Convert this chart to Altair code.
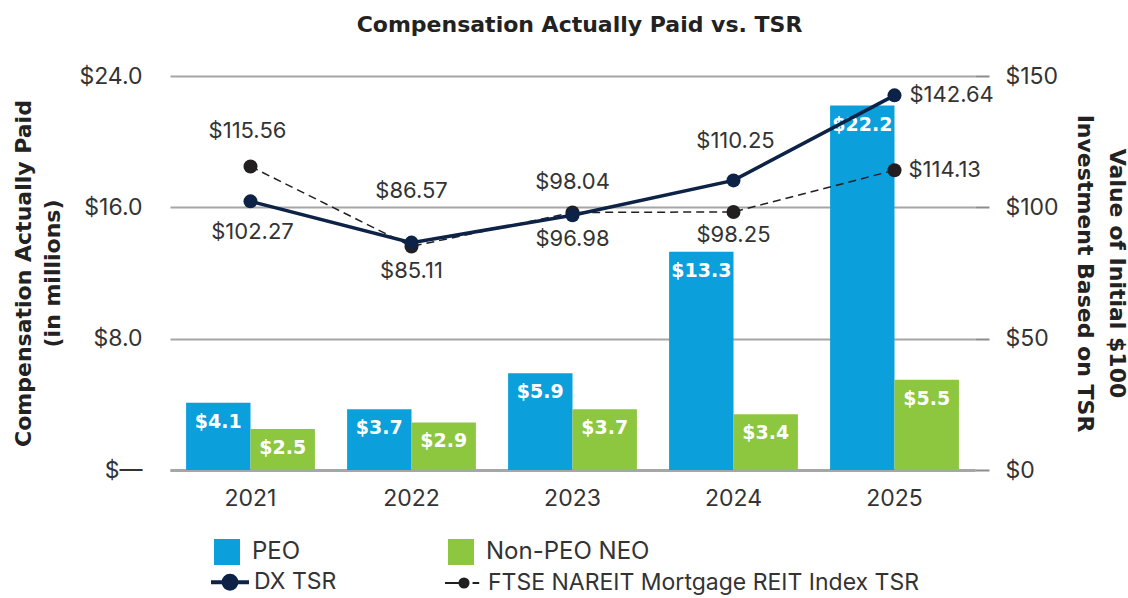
import altair as alt
import pandas as pd

years = ["2021", "2022", "2023", "2024", "2025"]
peo = [4.1, 3.7, 5.9, 13.3, 22.2]
non_peo = [2.5, 2.9, 3.7, 3.4, 5.5]
dx_tsr = [102.27, 86.57, 96.98, 110.25, 142.64]
ftse_tsr = [115.56, 85.11, 98.04, 98.25, 114.13]

bar_series = ["PEO", "Non-PEO NEO"]
line_series = ["DX TSR", "FTSE NAREIT Mortgage REIT Index TSR"]

FONT = "Inter"
BOLD = "DejaVu Sans"
TXT = "#333333"
GRID = "#a6a6a6"
BLUE = "#0b9fdb"
GREEN = "#8dc63f"
NAVY = "#0c2246"
BLACK = "#231f20"

bars_df = pd.DataFrame(
    [{"year": y, "series": bar_series[0], "value": v} for y, v in zip(years, peo)]
    + [{"year": y, "series": bar_series[1], "value": v} for y, v in zip(years, non_peo)]
)
tsr_df = pd.DataFrame(
    [{"year": y, "index": line_series[0], "value": v} for y, v in zip(years, dx_tsr)]
    + [{"year": y, "index": line_series[1], "value": v} for y, v in zip(years, ftse_tsr)]
)

x_enc = alt.X(
    "year:N",
    sort=years,
    scale=alt.Scale(paddingInner=0.2, paddingOuter=0.1),
    axis=alt.Axis(
        title=None, labelAngle=0, labelFont=FONT, labelFontSize=23, labelColor=TXT,
        labelPadding=17, ticks=False, domain=True, domainColor=GRID, domainWidth=3,
    ),
)

y_left = alt.Y(
    "value:Q",
    scale=alt.Scale(domain=[0, 24], nice=False),
    axis=alt.Axis(
        values=[0, 8, 16, 24],
        labelExpr="datum.value == 0 ? '$\u2014' : '$' + format(datum.value, '.1f')",
        labelFont=FONT, labelFontSize=23, labelColor=TXT, labelPadding=28,
        grid=True, gridColor=GRID, gridWidth=2, domain=False, ticks=False,
        title=["Compensation Actually Paid", "(in millions)"],
        titleFont=BOLD, titleFontSize=22, titleFontWeight="bold", titleColor="#222222",
        titleAngle=-90, titleBaseline="middle", titleAlign="center",
        titleX=-147, titleY=197, titleLineHeight=29,
    ),
)

bars = alt.Chart(bars_df).mark_bar().encode(
    x=x_enc,
    xOffset=alt.XOffset("series:N", sort=bar_series, scale=alt.Scale(paddingInner=0, paddingOuter=0)),
    y=y_left,
    color=alt.Color(
        "series:N",
        scale=alt.Scale(domain=bar_series, range=[BLUE, GREEN]),
        legend=alt.Legend(
            title=None, orient="none", legendX=44, legendY=463, columns=2,
            symbolType="square", symbolSize=676, symbolStrokeWidth=0,
            labelFont=FONT, labelFontSize=24, labelColor=TXT, labelOffset=12,
            columnPadding=147, padding=0, gridAlign="each", labelLimit=400,
        ),
    ),
)

bar_text = alt.Chart(bars_df).mark_text(
    font=BOLD, fontSize=19, fontWeight="bold", color="white", baseline="middle", dy=19
).encode(
    x=alt.X("year:N", sort=years),
    xOffset=alt.XOffset("series:N", sort=bar_series),
    y=alt.Y("value:Q"),
    text=alt.Text("label:N"),
).transform_calculate(label="'$' + format(datum.value, '.1f')")

bar_layer = alt.layer(bars, bar_text)

y_right = alt.Y(
    "value:Q",
    scale=alt.Scale(domain=[0, 150], nice=False),
    axis=alt.Axis(
        orient="right", values=[0, 50, 100, 150],
        labelExpr="'$' + format(datum.value, 'd')",
        labelFont=FONT, labelFontSize=23, labelColor=TXT, labelPadding=16,
        grid=False, domain=False, ticks=True, tickSize=14, tickColor="#8c8c8c", tickWidth=2,
        title=["Value of Initial $100", "Investment Based on TSR"],
        titleFont=BOLD, titleFontSize=22, titleFontWeight="bold", titleColor="#222222",
        titleAngle=90, titleBaseline="middle", titleAlign="center",
        titleX=141, titleY=197, titleLineHeight=32,
    ),
)

styles = {
    line_series[0]: dict(color=NAVY, strokeWidth=3.5),
    line_series[1]: dict(color=BLACK, strokeWidth=1.5, strokeDash=[8, 5]),
}

# label offsets per series per year: (dx, dy, align)
label_pos = {
    line_series[0]: {"2021": (2, 31, "center"), "2022": (0, -52, "center"), "2023": (0, 24, "center"),
                     "2024": (2, -39, "center"), "2025": (15, 0, "left")},
    line_series[1]: {"2021": (-3, -35, "center"), "2022": (0, 25, "center"), "2023": (0, -30, "center"),
                     "2024": (0, 23, "center"), "2025": (14, 0, "left")},
}

line_layers = []
for s in [line_series[1], line_series[0]]:
    base = alt.Chart(tsr_df).transform_filter(alt.datum["index"] == s)
    line_layers.append(base.mark_line(**styles[s]).encode(x=alt.X("year:N", sort=years), y=y_right))
    line_layers.append(
        base.mark_circle(color=styles[s]["color"], size=196, opacity=1).encode(
            x=alt.X("year:N", sort=years), y=alt.Y("value:Q")
        )
    )

text_layers = []
for s in line_series:
    for yr, (dx, dy, al) in label_pos[s].items():
        text_layers.append(
            alt.Chart(tsr_df)
            .transform_filter((alt.datum["index"] == s) & (alt.datum.year == yr))
            .transform_calculate(label="'$' + format(datum.value, '.2f')")
            .mark_text(font=FONT, fontSize=22, color=TXT, dx=dx, dy=dy, align=al, baseline="middle")
            .encode(x=alt.X("year:N", sort=years), y=alt.Y("value:Q"), text="label:N")
        )

dx_path = "M-1,0H1M0.34,0A0.34,0.34,0,1,1,-0.34,0A0.34,0.34,0,1,1,0.34,0Z"
ftse_path = "M-1,0H-0.2M0.24,0A0.24,0.24,0,1,1,-0.24,0A0.24,0.24,0,1,1,0.24,0ZM0.45,0H0.8"

line_legend = alt.Legend(
    title=None, orient="none", legendX=39, legendY=485, columns=2,
    symbolSize=1444, labelFont=FONT, labelFontSize=23, labelColor=TXT, labelOffset=3,
    columnPadding=104, padding=0, gridAlign="each", labelLimit=600,
)

legend_dummy = (
    alt.Chart(tsr_df)
    .transform_filter("datum.value < 0")
    .mark_point(filled=True, opacity=1)
    .encode(
        x=alt.X("year:N", sort=years),
        y=alt.Y("value:Q"),
        fill=alt.Fill("index:N", scale=alt.Scale(domain=line_series, range=[NAVY, BLACK]), legend=line_legend),
        stroke=alt.Stroke("index:N", scale=alt.Scale(domain=line_series, range=[NAVY, BLACK]), legend=line_legend),
        shape=alt.Shape("index:N", scale=alt.Scale(domain=line_series, range=[dx_path, ftse_path]), legend=line_legend),
        strokeWidth=alt.StrokeWidth("index:N", scale=alt.Scale(domain=line_series, range=[4, 2]), legend=line_legend),
    )
)

line_layer = alt.layer(*line_layers, *text_layers, legend_dummy)

chart = (
    alt.layer(bar_layer, line_layer)
    .resolve_scale(y="independent")
    .properties(
        width=805,
        height=394,
        autosize=alt.AutoSizeParams(type="none"),
        padding={"left": 170, "top": 76, "right": 153, "bottom": 128},
        title=alt.TitleParams(
            "Compensation Actually Paid vs. TSR", anchor="middle", font=BOLD, fontSize=22,
            fontWeight="bold", color="#222222", offset=28, dx=7,
        ),
    )
    .configure_view(stroke=None)
    .configure_legend(symbolStrokeWidth=0)
)

chart.save("out.html", embed_options={"renderer": "svg", "actions": False})
